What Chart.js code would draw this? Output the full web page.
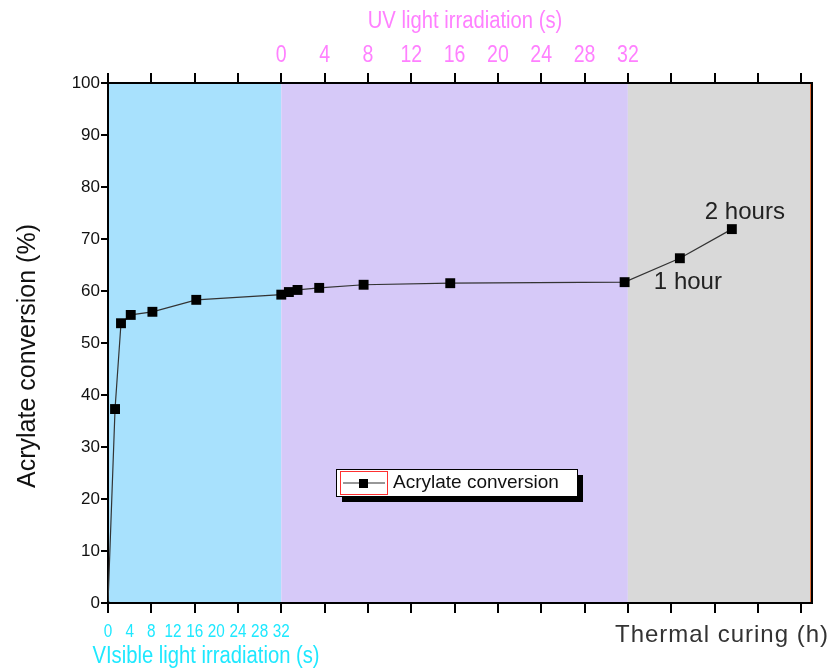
<!DOCTYPE html>
<html>
<head>
<meta charset="utf-8">
<script src="https://cdn.jsdelivr.net/npm/chart.js@4.4.1/dist/chart.umd.min.js"></script>
<style>
  body { margin: 0; background: #fff; }
  #wrap { width: 830px; height: 669px; position: relative; }
</style>
</head>
<body>
<div id="wrap"><canvas id="myChart-Conversion"></canvas></div>
<script>
// 可見光照射 (s) 與轉化率 (%)
const visibleTime = [0, 1.3, 2.4, 4.2, 8.2, 16.3, 32];
const visibleConv = [0, 37.3, 53.8, 55.4, 56.0, 58.3, 59.3];
// UV 照射 (s)
const uvTime = [0.7, 1.5, 3.5, 7.6, 15.6, 31.7];
const uvConv = [59.8, 60.2, 60.6, 61.2, 61.5, 61.7];
// 熱固化 (h)
const thermalTime = [1, 2];
const thermalConv = [66.3, 71.9];
const thermalNotes = ['1 hour', '2 hours'];

// 刻度文字
const visibleTickLabels = [0, 4, 8, 12, 16, 20, 24, 28, 32];
const uvTickLabels = [0, 4, 8, 12, 16, 20, 24, 28, 32];
const axisTickMarks = [0, 1, 2, 3, 4, 5, 6, 7, 8, 9, 10, 11, 12, 13, 14, 15, 16];

// 三段組合的 x 軸：可見光 0~4，UV 4~12，熱固化 12 之後
const visMax = 32, uvMax = 32;
function visToUnit(s) { return s / 8; }
function uvToUnit(s) { return visToUnit(visMax) + s / 4; }
function thermalToUnit(h) { return uvToUnit(uvMax) + h * 1.2; }
const xMax = 16.25;

const FONT = "'Liberation Sans', Arial, sans-serif";

const points = [];
visibleTime.forEach((t, i) => points.push({ x: visToUnit(t), y: visibleConv[i] }));
uvTime.forEach((t, i) => points.push({ x: uvToUnit(t), y: uvConv[i] }));
thermalTime.forEach((t, i) => points.push({ x: thermalToUnit(t), y: thermalConv[i] }));

function drawText(ctx, text, x, y, o) {
    ctx.save();
    ctx.translate(x, y);
    if (o.rotate) ctx.rotate(o.rotate);
    ctx.scale(o.sx || 1, 1);
    ctx.font = o.font;
    ctx.fillStyle = o.color;
    ctx.textAlign = o.align || 'center';
    ctx.textBaseline = o.baseline || 'middle';
    if (o.spacing) ctx.letterSpacing = o.spacing;
    ctx.fillText(text, 0, 0);
    ctx.restore();
}

// 背景色塊
const regionPlugin = {
    id: 'regions',
    beforeDraw(chart) {
        const { ctx, chartArea: a, scales: { x } } = chart;
        const regions = [
            [0, visToUnit(visMax), '#a8e1fd'],
            [uvToUnit(0), uvToUnit(uvMax), '#d6c9f8'],
            [thermalToUnit(0), xMax, '#d9d9d9']
        ];
        ctx.save();
        regions.forEach(r => {
            const x0 = x.getPixelForValue(r[0]);
            const x1 = x.getPixelForValue(r[1]);
            ctx.fillStyle = r[2];
            ctx.fillRect(x0, a.top, x1 - x0, a.bottom - a.top);
        });
        ctx.restore();
    }
};

// 文字、刻度標籤、圖例
const textPlugin = {
    id: 'texts',
    afterDraw(chart) {
        const { ctx, chartArea: a, scales: { x, y } } = chart;

        // 右側橘色細線
        ctx.save();
        ctx.strokeStyle = '#e0703c';
        ctx.lineWidth = 1;
        ctx.beginPath();
        ctx.moveTo(a.right - 1.5, a.top + 1);
        ctx.lineTo(a.right - 1.5, a.bottom - 1);
        ctx.stroke();
        ctx.restore();

        // 上方 UV 刻度
        uvTickLabels.forEach(v => {
            drawText(ctx, String(v), x.getPixelForValue(uvToUnit(v)), a.top - 27,
                { font: '23px ' + FONT, color: '#ff80ff', sx: 0.85 });
        });
        drawText(ctx, 'UV light irradiation (s)', 465, 22,
            { font: '23px ' + FONT, color: '#ff80ff', sx: 0.88 });

        // 下方可見光刻度
        visibleTickLabels.forEach(v => {
            drawText(ctx, String(v), x.getPixelForValue(visToUnit(v)), a.bottom + 29,
                { font: '18px ' + FONT, color: '#1ee8ff', sx: 0.85 });
        });
        drawText(ctx, 'VIsible light irradiation (s)', 206, 657,
            { font: '23px ' + FONT, color: '#1ee8ff', sx: 0.88 });

        drawText(ctx, 'Thermal curing (h)', 722, 635,
            { font: '24px ' + FONT, color: '#333', spacing: '1px' });

        // y 軸標題
        drawText(ctx, 'Acrylate conversion (%)', 28, 356,
            { font: '25px ' + FONT, color: '#111', rotate: -Math.PI / 2 });

        // 1 hour / 2 hours 標註
        const p1x = x.getPixelForValue(thermalToUnit(thermalTime[0]));
        const p1y = y.getPixelForValue(thermalConv[0]);
        drawText(ctx, thermalNotes[0], p1x - 26, p1y + 31,
            { font: '24px ' + FONT, color: '#222', align: 'left', baseline: 'alphabetic' });
        const p2x = x.getPixelForValue(thermalToUnit(thermalTime[1]));
        const p2y = y.getPixelForValue(thermalConv[1]);
        drawText(ctx, thermalNotes[1], p2x - 27, p2y - 10,
            { font: '24px ' + FONT, color: '#222', align: 'left', baseline: 'alphabetic' });

        // 圖例 (Origin 風格，帶陰影)
        const lx = 336, ly = 469, lw = 241, lh = 27;
        ctx.save();
        ctx.fillStyle = '#000';
        ctx.fillRect(lx + 6, ly + 6, lw, lh);
        ctx.fillStyle = '#fff';
        ctx.fillRect(lx, ly, lw, lh);
        ctx.strokeStyle = '#000';
        ctx.lineWidth = 1;
        ctx.strokeRect(lx + 0.5, ly + 0.5, lw, lh);
        ctx.strokeStyle = '#ff3030';
        ctx.strokeRect(lx + 4.5, ly + 2.5, 47, 23);
        ctx.strokeStyle = '#333';
        ctx.lineWidth = 1.2;
        ctx.beginPath();
        ctx.moveTo(lx + 7, ly + 14);
        ctx.lineTo(lx + 49, ly + 14);
        ctx.stroke();
        ctx.fillStyle = '#000';
        ctx.fillRect(lx + 23, ly + 10, 9, 9);
        ctx.restore();
        drawText(ctx, chart.data.datasets[0].label, lx + 57, ly + 14,
            { font: '19px ' + FONT, color: '#111', align: 'left' });
    }
};

const axisX = (pos, h) => ({
    type: 'linear',
    position: pos,
    min: 0,
    max: xMax,
    afterBuildTicks: s => { s.ticks = axisTickMarks.map(v => ({ value: v })); },
    afterFit: s => { s.height = h; },
    ticks: { display: false },
    grid: { drawOnChartArea: false, drawTicks: true, tickLength: 10, color: '#000', lineWidth: 2 },
    border: { display: true, color: '#000', width: 2 }
});

new Chart(document.getElementById('myChart-Conversion'), {
    type: 'line',
    data: {
        datasets: [{
            label: 'Acrylate conversion',
            data: points,
            xAxisID: 'x',
            yAxisID: 'y',
            borderColor: '#333',
            borderWidth: 1.2,
            pointStyle: 'rect',
            pointRadius: c => (c.dataIndex === 0 ? 2 : 7),
            pointBackgroundColor: '#000',
            pointBorderColor: '#000',
            pointBorderWidth: 0,
            tension: 0,
            clip: 0
        }]
    },
    options: {
        responsive: true,
        maintainAspectRatio: false,
        animation: false,
        layout: { padding: 0 },
        plugins: {
            legend: { display: false },
            tooltip: { enabled: false }
        },
        scales: {
            x: axisX('bottom', 66),
            x2: axisX('top', 83),
            y: {
                min: 0,
                max: 100,
                afterFit: s => { s.width = 108; },
                ticks: { stepSize: 10, color: '#111', font: { size: 17, family: FONT }, padding: 1 },
                grid: { drawOnChartArea: false, tickLength: 7, color: '#000', lineWidth: 2 },
                border: { display: true, color: '#000', width: 2 }
            },
            y2: {
                position: 'right',
                min: 0,
                max: 100,
                afterFit: s => { s.width = 18; },
                ticks: { display: false },
                grid: { drawOnChartArea: false, drawTicks: false },
                border: { display: true, color: '#000', width: 2 }
            }
        }
    },
    plugins: [regionPlugin, textPlugin]
});
</script>
</body>
</html>
